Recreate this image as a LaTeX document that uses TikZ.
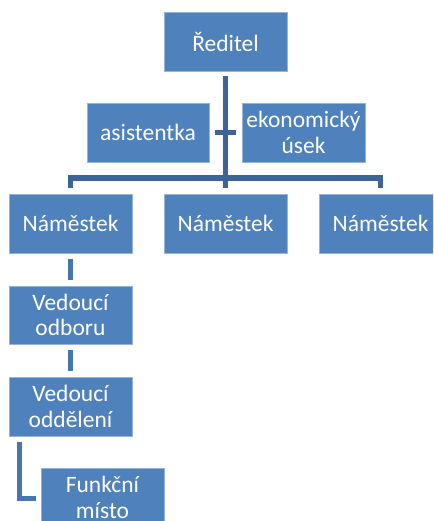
\documentclass[tikz,border=0pt]{standalone}
\usepackage{fontspec}
\setmainfont{Carlito}
\usetikzlibrary{calc}
\definecolor{boxblue}{RGB}{79,129,189}
\definecolor{boxedge}{RGB}{150,180,215}
\definecolor{linkdark}{RGB}{60,100,150}
\definecolor{linkmid}{RGB}{72,118,175}
\tikzset{
  orgbox/.style={rectangle, fill=boxblue, draw=boxedge, line width=0.6pt,
    minimum width=123pt, minimum height=59pt, inner sep=2pt, align=center,
    text=white, font=\fontsize{23.5}{25.5}\selectfont},
  topline/.style={draw=linkdark, line width=5.5pt, line join=miter},
  lowline/.style={draw=linkmid, line width=5pt, line join=miter}
}
\begin{document}
\begin{tikzpicture}[x=1pt,y=-1pt]
\useasboundingbox (0,0) rectangle (433,521);
\clip (0,0) rectangle (433,521);

% boxes
\node[orgbox] (red) at (225.5,41.5) {Ředitel};
\node[orgbox, minimum width=122pt] (asi) at (148,132.5) {asistentka};
\node[orgbox] (eko) at (303.5,132.5) {ekonomický\\úsek};
\node[orgbox] (nam1) at (70.5,223.5) {Náměstek};
\node[orgbox] (nam2) at (225.5,223.5) {Náměstek};
\node[orgbox] (nam3) at (380.5,223.5) {Náměstek};
\node[orgbox, minimum height=58pt] (odb) at (70.5,315) {Vedoucí\\odboru};
\node[orgbox] (odd) at (70.5,406.5) {Vedoucí\\oddělení};
\node[orgbox] (fun) at (102.5,497.5) {Funkční\\místo};

% connector points
\coordinate (trunkTop) at ($(red.south)+(0,5)$);
\coordinate (trunkEnd) at ($(nam2.north)+(0,-6)$);
\coordinate (stubL) at ($(asi.east)+(6,0)$);
\coordinate (stubR) at ($(eko.west)+(-6,0)$);
\coordinate (busL) at ($(nam1.north)+(0,-15.5)$);
\coordinate (busR) at ($(nam3.north)+(0,-15.5)$);
\coordinate (dropL) at ($(nam1.north)+(0,-6)$);
\coordinate (dropR) at ($(nam3.north)+(0,-6)$);
\coordinate (a1) at ($(nam1.south)+(0,6)$);
\coordinate (a2) at ($(odb.north)+(0,-6)$);
\coordinate (b1) at ($(odb.south)+(0,6)$);
\coordinate (b2) at ($(odd.north)+(0,-6)$);
\coordinate (c1) at (19,442);
\coordinate (c2) at (19,498);
\coordinate (c3) at ($(fun.west)+(-5,0.5)$);

% top level links
\draw[topline] (trunkTop) -- (trunkEnd);
\draw[topline] (stubL) -- (stubR);
\draw[topline] (dropL) -- (busL) -- (busR) -- (dropR);

% lower links
\draw[lowline] (a1) -- (a2);
\draw[lowline] (b1) -- (b2);
\draw[lowline] (c1) -- (c2) -- (c3);
\end{tikzpicture}
\end{document}
